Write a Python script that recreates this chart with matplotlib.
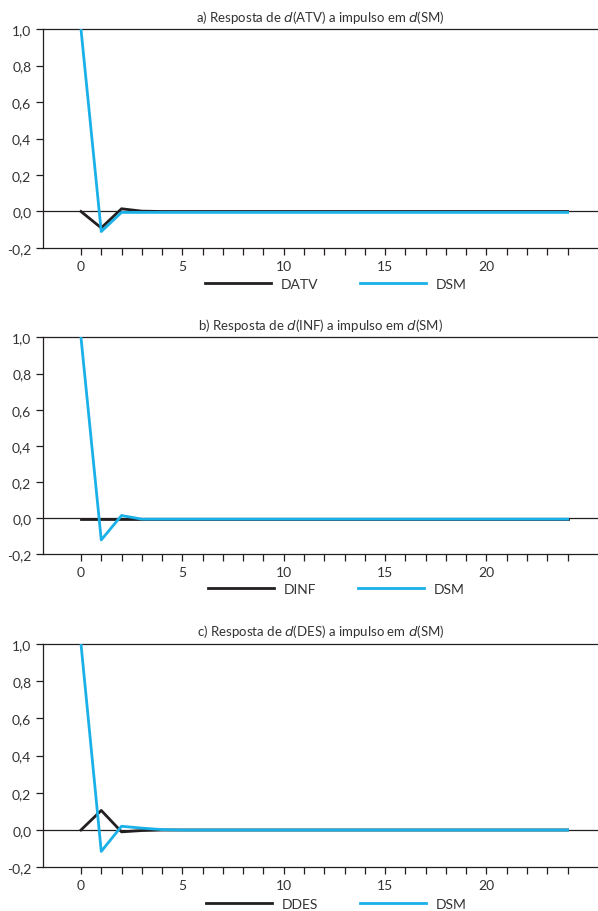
import numpy as np
import matplotlib
matplotlib.use("Agg")
import matplotlib.pyplot as plt

plt.rcParams['font.family'] = ['Lato', 'DejaVu Sans']
plt.rcParams['font.size'] = 10

# ---- data ----
periods = np.arange(0, 25)

atv_resp = [0.0, -0.09, 0.015, 0.002, 0.0, 0.0, 0.0, 0.0, 0.0, 0.0, 0.0, 0.0, 0.0,
            0.0, 0.0, 0.0, 0.0, 0.0, 0.0, 0.0, 0.0, 0.0, 0.0, 0.0, 0.0]
atv_sm = [1.0, -0.11, -0.005, -0.005, -0.005, -0.005, -0.005, -0.005, -0.005, -0.005,
          -0.005, -0.005, -0.005, -0.005, -0.005, -0.005, -0.005, -0.005, -0.005,
          -0.005, -0.005, -0.005, -0.005, -0.005, -0.005]

inf_resp = [-0.005] * 25
inf_sm = [1.0, -0.12, 0.015, -0.005, -0.005, -0.005, -0.005, -0.005, -0.005, -0.005,
          -0.005, -0.005, -0.005, -0.005, -0.005, -0.005, -0.005, -0.005, -0.005,
          -0.005, -0.005, -0.005, -0.005, -0.005, -0.005]

des_resp = [0.0, 0.105, -0.01, -0.003, 0.0, 0.0, 0.0, 0.0, 0.0, 0.0, 0.0, 0.0, 0.0,
            0.0, 0.0, 0.0, 0.0, 0.0, 0.0, 0.0, 0.0, 0.0, 0.0, 0.0, 0.0]
des_sm = [1.0, -0.115, 0.02, 0.01, 0.002, 0.0, 0.0, 0.0, 0.0, 0.0, 0.0, 0.0, 0.0,
          0.0, 0.0, 0.0, 0.0, 0.0, 0.0, 0.0, 0.0, 0.0, 0.0, 0.0, 0.0]

titles = ['a) Resposta de $\\mathit{d}$(ATV) a impulso em $\\mathit{d}$(SM)',
          'b) Resposta de $\\mathit{d}$(INF) a impulso em $\\mathit{d}$(SM)',
          'c) Resposta de $\\mathit{d}$(DES) a impulso em $\\mathit{d}$(SM)']
resp_labels = ['DATV', 'DINF', 'DDES']
responses = [atv_resp, inf_resp, des_resp]
sm_series = [atv_sm, inf_sm, des_sm]

BLACK = '#231f20'
BLUE = '#1ab0e8'
H = 912.0

fig = plt.figure(figsize=(5.98, 9.12), dpi=100)

# [left, bottom, width, height] in figure fractions
positions = [
    [0.072, 0.727, 0.928, 0.240],
    [0.072, 0.391, 0.928, 0.238],
    [0.072, 0.048, 0.928, 0.245],
]
legend_y = [285, 590, 905]  # pixel rows of legend centres

for i in range(3):
    ax = fig.add_axes(positions[i])
    ax.axhline(0, color=BLACK, lw=0.9, zorder=1)
    l1, = ax.plot(periods, responses[i], color=BLACK, lw=2.0, label=resp_labels[i], zorder=2)
    l2, = ax.plot(periods, sm_series[i], color=BLUE, lw=2.0, label='DSM', zorder=3)

    ax.set_xlim(-1.87, 25.5)
    ax.set_ylim(-0.2, 1.0)
    ax.set_yticks(np.arange(-0.2, 1.01, 0.2))
    ax.set_yticklabels([f'{v:.1f}'.replace('.', ',') for v in np.arange(-0.2, 1.01, 0.2)])
    ax.set_xticks(np.arange(0, 25))
    ax.set_xticklabels([str(t) if t % 5 == 0 else '' for t in range(25)])

    ax.spines['right'].set_visible(False)
    for s in ['left', 'bottom', 'top']:
        ax.spines[s].set_color(BLACK)
        ax.spines[s].set_linewidth(0.9)
    ax.tick_params(axis='both', direction='out', length=5, width=0.9, colors=BLACK,
                   labelcolor='#333333', labelsize=10)
    ax.tick_params(axis='x', pad=3.5)

    ax.set_title(titles[i], fontsize=9.5, color='#333333', pad=6)

    fig.legend(handles=[l1, l2], loc='center',
               bbox_to_anchor=(336 / 598, 1 - legend_y[i] / H), ncol=2, frameon=False,
               handlelength=4.75, columnspacing=3.0, handletextpad=0.7, fontsize=10,
               labelcolor='#333333', borderpad=0.2)

fig.savefig('out.png', dpi=100)
